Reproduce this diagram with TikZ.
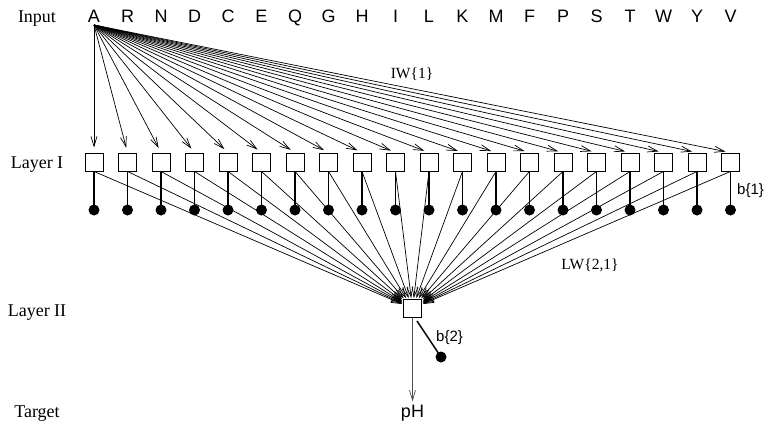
\documentclass[tikz,border=0pt]{standalone}
\usepackage{fontspec}
\setmainfont{Liberation Serif}
\setsansfont{Liberation Sans}
\usetikzlibrary{arrows.meta}
\begin{document}
\begin{tikzpicture}[x=1pt,y=-1pt,
  letter/.style={font=\sffamily\fontsize{18}{18}\selectfont, inner sep=0pt, anchor=base},
  lab/.style={font=\fontsize{18}{18}\selectfont, inner sep=0pt, anchor=base},
  wlab/.style={font=\fontsize{15.5}{15.5}\selectfont, inner sep=0pt, anchor=base},
  blab/.style={font=\sffamily\fontsize{15}{15}\selectfont, inner sep=0pt, anchor=base west},
  neuron/.style={draw, fill=white, minimum size=18pt, inner sep=0pt, line width=0.9pt},
  arr/.style={-{Straight Barb[length=10pt,width=6pt]}, line width=0.7pt},
  bias/.style={line width=1.5pt},
  dot/.style={circle, fill, inner sep=0pt, minimum size=11pt}]
\useasboundingbox (0,0) rectangle (764,424);
% row labels
\node[lab] (tin) at (37,22.7) {Input};
\node[lab] (tl1) at (37,168) {Layer I};
\node[lab] (tl2) at (37,316.7) {Layer II};
\node[lab] (ttg) at (37,417) {Target};
% input letters
\foreach \l [count=\i] in {A,R,N,D,C,E,Q,G,H,I,L,K,M,F,P,S,T,W,Y,V}{
  \node[letter] (in\i) at ({94+33.5*(\i-1)},22.7) {\l};
}
\coordinate (src) at (94,25);
% layer II neuron
\node[neuron] (l2) at (412.5,308.5) {};
% layer I neurons, bias dots
\foreach \i in {1,...,20}{
  \node[neuron] (h\i) at ({94+33.5*(\i-1)},162) {};
  \node[dot] (d\i) at ({94+33.5*(\i-1)},210) {};
}
% IW arrows
\foreach \i in {1,...,20}{
  \draw[arr, shorten >=5pt] (src) -- (h\i.north);
}
% LW arrows and biases
\foreach \i in {1,...,20}{
  \draw[bias] (h\i.south) -- (d\i.center);
  \draw[arr, shorten >=1pt] (h\i.south) -- (l2);
}
\node[neuron] at (l2) {};
% labels
\node[wlab] (iw) at (412,78) {IW\{1\}};
\node[wlab] (lw) at (590,269) {LW\{2,1\}};
\node[blab] (b1) at (737,194) {b\{1\}};
% layer II bias
\coordinate (b2s) at (417,321);
\node[dot] (d2) at (441,357) {};
\draw[bias] (b2s) -- (d2.center);
\node[blab] (b2) at (436,341) {b\{2\}};
% output
\node[font=\sffamily\fontsize{18}{18}\selectfont, inner sep=0pt, anchor=base] (ph) at (412.5,417) {pH};
\draw[arr, draw={rgb,255:red,80;green,80;blue,80}, shorten >=3pt] (l2.south) -- (ph.north);
\end{tikzpicture}
\end{document}
